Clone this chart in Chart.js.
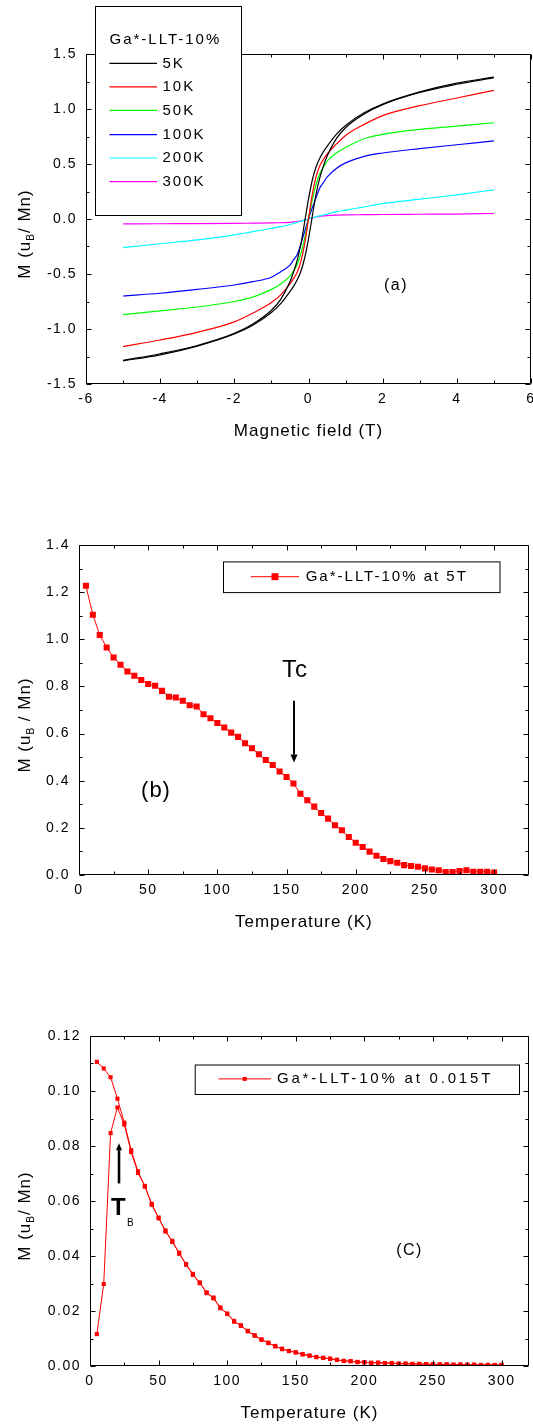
<!DOCTYPE html>
<html><head><meta charset="utf-8">
<script src="https://cdn.jsdelivr.net/npm/chart.js@4.4.1/dist/chart.umd.min.js"></script>
<style>
html,body{margin:0;padding:0;background:#fff;}
body{width:533px;height:1425px;position:relative;overflow:hidden;}
canvas{position:absolute;left:0;}
</style></head><body>
<canvas id="ca" width="533" height="480" style="top:0px"></canvas>
<canvas id="cb" width="533" height="490" style="top:480px"></canvas>
<canvas id="cc" width="533" height="455" style="top:970px"></canvas>
<script>
// ---------- Panel (a): M vs H loops ----------
const fieldGrid = [-5,-4,-3,-2,-1.5,-1,-0.75,-0.5,-0.4,-0.3,-0.2,-0.1,0,0.1,0.2,0.3,0.4,0.5,0.75,1,1.5,2,3,4,5];
const m5K_desc = [-1.285,-1.225,-1.15,-1.04,-0.955,-0.83,-0.73,-0.57,-0.48,-0.37,-0.22,-0.02,0.18,0.35,0.47,0.55,0.61,0.66,0.77,0.85,0.965,1.045,1.155,1.235,1.29];
const m5K_asc  = [-1.29,-1.235,-1.155,-1.045,-0.965,-0.85,-0.77,-0.66,-0.61,-0.55,-0.47,-0.35,-0.18,0.02,0.22,0.37,0.48,0.57,0.73,0.83,0.955,1.04,1.15,1.225,1.285];
const m10K  = [-1.16,-1.10,-1.03,-0.935,-0.855,-0.76,-0.69,-0.59,-0.54,-0.48,-0.38,-0.22,0,0.22,0.38,0.48,0.54,0.59,0.68,0.76,0.86,0.94,1.03,1.10,1.17];
const m50K  = [-0.87,-0.835,-0.80,-0.75,-0.71,-0.64,-0.59,-0.52,-0.47,-0.41,-0.31,-0.17,0,0.17,0.31,0.41,0.47,0.525,0.60,0.65,0.73,0.77,0.815,0.845,0.875];
const m100K = [-0.70,-0.675,-0.64,-0.60,-0.57,-0.53,-0.48,-0.42,-0.37,-0.32,-0.22,-0.11,0,0.10,0.19,0.28,0.33,0.38,0.46,0.51,0.57,0.60,0.64,0.675,0.71];
const m200K = [-0.26,-0.225,-0.19,-0.145,-0.115,-0.085,-0.07,-0.05,-0.04,-0.03,-0.02,-0.01,0,0.01,0.02,0.028,0.036,0.045,0.065,0.08,0.11,0.14,0.18,0.22,0.265];
const m300K = [-0.045,-0.043,-0.042,-0.04,-0.038,-0.036,-0.034,-0.03,-0.027,-0.023,-0.017,-0.009,0,0.01,0.018,0.024,0.028,0.031,0.035,0.037,0.039,0.041,0.043,0.045,0.05];
const seriesLabelsA = ['5K','10K','50K','100K','200K','300K'];
const seriesColorsA = ['#000000','#ff0000','#00ff00','#0000ff','#00ffff','#ff00ff'];
const xTicksA = [-6,-4,-2,0,2,4,6];
const xMinorA = [-5,-3,-1,1,3,5];
const yTicksA = [-1.5,-1,-0.5,0,0.5,1,1.5];
const yMinorA = [-1.25,-0.75,-0.25,0.25,0.75,1.25];

// ---------- Panel (b): M vs T at 5T ----------
const tempB = [5,10,15,20,25,30,35,40,45,50,55,60,65,70,75,80,85,90,95,100,105,110,115,120,125,130,135,140,145,150,155,160,165,170,175,180,185,190,195,200,205,210,215,220,225,230,235,240,245,250,255,260,265,270,275,280,285,290,295,300];
const magB = [1.227,1.104,1.018,0.965,0.923,0.892,0.863,0.845,0.827,0.81,0.803,0.781,0.756,0.753,0.739,0.72,0.715,0.682,0.665,0.645,0.626,0.604,0.586,0.559,0.538,0.512,0.488,0.467,0.439,0.416,0.388,0.345,0.317,0.29,0.263,0.239,0.211,0.19,0.161,0.137,0.119,0.099,0.082,0.068,0.059,0.052,0.042,0.038,0.035,0.028,0.023,0.02,0.013,0.013,0.017,0.02,0.014,0.014,0.014,0.01];
const xTicksB = [0,50,100,150,200,250,300];
const xMinorB = [25,75,125,175,225,275];
const yTicksB = [0,0.2,0.4,0.6,0.8,1.0,1.2,1.4];
const yMinorB = [0.1,0.3,0.5,0.7,0.9,1.1,1.3];

// ---------- Panel (c): M vs T at 0.015T (FC / ZFC) ----------
const tempC = [5,10,15,20,25,30,35,40,45,50,55,60,65,70,75,80,85,90,95,100,105,110,115,120,125,130,135,140,145,150,155,160,165,170,175,180,185,190,195,200,205,210,215,220,225,230,235,240,245,250,255,260,265,270,275,280,285,290,295,300];
const magC_FC = [0.1106,0.1082,0.105,0.0972,0.0885,0.0785,0.0708,0.0652,0.059,0.0537,0.0493,0.0451,0.0412,0.0368,0.0335,0.0301,0.0268,0.0246,0.0213,0.0189,0.0164,0.0146,0.0128,0.011,0.0097,0.0083,0.0073,0.0061,0.0055,0.0049,0.0043,0.0037,0.0033,0.0029,0.0027,0.0022,0.0019,0.0017,0.0015,0.0013,0.0012,0.0012,0.0011,0.001,0.0009,0.0008,0.0008,0.0007,0.0007,0.0006,0.0006,0.0006,0.0005,0.0005,0.0005,0.0004,0.0004,0.0004,0.0004,0.0004];
const magC_ZFC = [0.0116,0.0298,0.0847,0.094,0.0878,0.0778,0.0702,0.0655,0.0586,0.054,0.0489,0.0455,0.0408,0.0371,0.0331,0.0304,0.0265,0.0249,0.021,0.0191,0.0161,0.0148,0.0126,0.0112,0.0095,0.0085,0.0071,0.0063,0.0054,0.005,0.0042,0.0038,0.0032,0.003,0.0026,0.0023,0.0018,0.0018,0.0014,0.0014,0.0011,0.0012,0.001,0.0011,0.0008,0.0009,0.0007,0.0008,0.0006,0.0007,0.0005,0.0006,0.0004,0.0005,0.0004,0.0005,0.0003,0.0004,0.0003,0.0004];
const xTicksC = [0,50,100,150,200,250,300];
const xMinorC = [25,75,125,175,225,275];
const yTicksC = [0,0.02,0.04,0.06,0.08,0.10,0.12];
const yMinorC = [0.01,0.03,0.05,0.07,0.09,0.11];

const FONT = '"Liberation Sans", Arial, Helvetica, sans-serif';
function pts(xs, ys){ return xs.map((x,i)=>({x:x, y:ys[i]})); }

const framePlugin = {
  id:'frame',
  beforeDraw(chart){ chart.ctx.letterSpacing = '1.5px'; },
  afterDraw(chart, args, o){
    const ctx = chart.ctx, A = chart.chartArea, X = chart.scales.x, Y = chart.scales.y;
    ctx.save();
    ctx.strokeStyle = '#000'; ctx.fillStyle = '#000'; ctx.lineWidth = 1;
    const L = Math.round(A.left)+0.5, R = Math.round(A.right)-0.5, T = Math.round(A.top)+0.5, B = Math.round(A.bottom)-0.5;
    ctx.beginPath();
    ctx.rect(L, T, R-L, B-T);
    const tick = (vals, len, horiz) => vals.forEach(v => {
      if (horiz) { const p = Math.round(X.getPixelForValue(v))+0.5; ctx.moveTo(p,B); ctx.lineTo(p,B-len); ctx.moveTo(p,T); ctx.lineTo(p,T+len); }
      else { const p = Math.round(Y.getPixelForValue(v))+0.5; ctx.moveTo(L,p); ctx.lineTo(L+len,p); ctx.moveTo(R,p); ctx.lineTo(R-len,p); }
    });
    tick(o.xMajor,5,true); tick(o.xMinor,3,true); tick(o.yMajor,5,false); tick(o.yMinor,3,false);
    ctx.stroke();

    // axis titles
    const main = '17px ' + FONT, sub = '10px ' + FONT;
    ctx.letterSpacing = '1px';
    ctx.font = main; ctx.textAlign = 'center'; ctx.textBaseline = 'middle';
    ctx.fillText(o.xTitle, (A.left+A.right)/2, A.bottom + o.xTitleOffset);
    ctx.save();
    ctx.translate(o.yTitleX, (A.top+A.bottom)/2 + o.yTitleDy);
    ctx.rotate(-Math.PI/2);
    ctx.textAlign = 'left';
    ctx.font = main; const w1 = ctx.measureText(o.yTitle[0]).width;
    ctx.font = sub;  const ws = ctx.measureText(o.yTitle[1]).width;
    ctx.font = main; const w2 = ctx.measureText(o.yTitle[2]).width;
    let x0 = -(w1+ws+w2)/2;
    ctx.fillText(o.yTitle[0], x0, 0);
    ctx.font = sub; ctx.fillText(o.yTitle[1], x0+w1, 6);
    ctx.font = main; ctx.fillText(o.yTitle[2], x0+w1+ws, 0);
    ctx.restore();

    // free texts
    (o.texts||[]).forEach(t => {
      ctx.letterSpacing = (t.sp||1.5)+'px';
      ctx.font = (t.weight||'normal') + ' ' + t.size + 'px ' + FONT;
      ctx.textAlign = t.align||'center'; ctx.textBaseline = 'middle';
      ctx.fillText(t.t, t.x, t.y);
    });
    // arrows
    (o.arrows||[]).forEach(a => {
      const dir = a.y2 > a.y1 ? 1 : -1;
      ctx.beginPath(); ctx.lineWidth = a.w;
      ctx.moveTo(a.x, a.y1); ctx.lineTo(a.x, a.y2 - dir*a.hl);
      ctx.stroke();
      ctx.beginPath();
      ctx.moveTo(a.x, a.y2); ctx.lineTo(a.x - a.hw, a.y2 - dir*a.hl); ctx.lineTo(a.x + a.hw, a.y2 - dir*a.hl); ctx.closePath();
      ctx.fill();
    });
    // legend
    const lg = o.legend;
    if (lg) {
      ctx.lineWidth = 1;
      ctx.fillStyle = '#fff';
      ctx.fillRect(lg.l, lg.t, lg.r-lg.l, lg.b-lg.t);
      ctx.strokeStyle = '#000';
      ctx.strokeRect(lg.l+0.5, lg.t+0.5, lg.r-lg.l, lg.b-lg.t);
      ctx.letterSpacing = lg.sp + 'px';
      ctx.font = lg.size + 'px ' + FONT;
      ctx.textAlign = 'left'; ctx.textBaseline = 'middle'; ctx.fillStyle = '#000';
      if (lg.title) ctx.fillText(lg.title, lg.titleX, lg.titleY);
      lg.items.forEach(it => {
        ctx.strokeStyle = it.color; ctx.lineWidth = it.lw || 1.2;
        ctx.beginPath(); ctx.moveTo(it.x1, it.y); ctx.lineTo(it.x2, it.y); ctx.stroke();
        if (it.marker) { ctx.fillStyle = it.color; ctx.fillRect(it.mx - it.marker/2, it.y - it.marker/2, it.marker, it.marker); }
        ctx.fillStyle = '#000';
        ctx.fillText(it.text, it.tx, it.y);
      });
    }
    ctx.restore();
  }
};

function axis(min, max, ticks, fmt, fitProp, fitVal, pad){
  const ax = {
    type:'linear', min:min, max:max,
    afterBuildTicks: s => { s.ticks = ticks.map(v => ({value:v})); },
    ticks:{ autoSkip:false, maxRotation:0, minRotation:0, padding:pad, color:'#000',
            font:{family:FONT, size:14}, callback: v => fmt(v) },
    grid:{ display:false, drawTicks:false },
    border:{ display:false },
    afterFit: s => { s[fitProp] = fitVal; s.paddingLeft = 0; s.paddingRight = 0; s.paddingTop = 0; s.paddingBottom = 0; }
  };
  return ax;
}

const baseOpts = { responsive:false, animation:false, devicePixelRatio:1 };

// Panel (a)
const seriesA = [m5K_desc, m10K, m50K, m100K, m200K, m300K];
const dsA = [];
dsA.push({data: pts(fieldGrid, m5K_asc), borderColor: seriesColorsA[0]});
seriesA.forEach((s,i) => dsA.push({data: pts(fieldGrid, s), borderColor: seriesColorsA[i]}));
dsA.forEach(d => { d.showLine = true; d.borderWidth = 1.2; d.pointRadius = 0; d.cubicInterpolationMode = 'monotone'; d.fill = false; });

const legendRowsA = [63.4, 86.9, 110.4, 134.6, 158, 181.6];
new Chart(document.getElementById('ca'), {
  type:'scatter',
  data:{ datasets: dsA },
  options: Object.assign({}, baseOpts, {
    layout:{ padding:{ left:0, top:54, right:2, bottom:56 } },
    plugins:{ legend:{display:false}, tooltip:{enabled:false},
      frame:{ xMajor:xTicksA, xMinor:xMinorA, yMajor:yTicksA, yMinor:yMinorA,
        xTitle:'Magnetic field (T)', xTitleOffset:47, yTitle:['M (u','B','/ Mn)'], yTitleX:25, yTitleDy:15,
        texts:[{t:'(a)', x:396, y:285.6, size:16}],
        legend:{ l:95, t:6, r:241, b:215, size:15, sp:2, title:'Ga*-LLT-10%', titleX:109.5, titleY:40,
          items: seriesLabelsA.map((lab,i) => ({text:lab, color:seriesColorsA[i], x1:109.5, x2:157, y:legendRowsA[i], tx:162.5})) }
      } },
    scales:{
      x: axis(-6, 6, xTicksA, v => String(v), 'height', 40, 7),
      y: axis(-1.5, 1.5, yTicksA, v => v.toFixed(1), 'width', 86, 9)
    }
  }),
  plugins:[framePlugin]
});

// Panel (b)
new Chart(document.getElementById('cb'), {
  type:'scatter',
  data:{ datasets:[{ data: pts(tempB, magB), showLine:true, borderColor:'#ff0000', backgroundColor:'#ff0000', borderWidth:1,
    pointStyle:'rect', pointRadius:4.3, pointBorderWidth:0, tension:0 }] },
  options: Object.assign({}, baseOpts, {
    layout:{ padding:{ left:0, top:65, right:4, bottom:55 } },
    plugins:{ legend:{display:false}, tooltip:{enabled:false},
      frame:{ xMajor:xTicksB, xMinor:xMinorB, yMajor:yTicksB, yMinor:yMinorB,
        xTitle:'Temperature (K)', xTitleOffset:47, yTitle:['M (u','B',' / Mn)'], yTitleX:25, yTitleDy:15,
        texts:[{t:'(b)', x:156, y:311, size:22, sp:1}, {t:'Tc', x:295, y:190.8, size:24, sp:1}],
        arrows:[{x:294, y1:220.8, y2:282.6, w:2, hw:3.5, hl:8}],
        legend:{ l:223, t:81.4, r:499.5, b:112.1, size:15, sp:2,
          items:[{text:'Ga*-LLT-10% at 5T', color:'#ff0000', x1:250.7, x2:299, y:96.7, tx:305.7, marker:7, mx:275, lw:1}] }
      } },
    scales:{
      x: axis(0, 325, xTicksB, v => String(v), 'height', 40, 7),
      y: axis(0, 1.4, yTicksB, v => v.toFixed(1), 'width', 79, 9)
    }
  }),
  plugins:[framePlugin]
});

// Panel (c)
const dsC = [
  { data: pts(tempC, magC_FC) },
  { data: pts(tempC, magC_ZFC) }
];
dsC.forEach(d => { d.showLine = true; d.borderColor = '#ff0000'; d.backgroundColor = '#ff0000'; d.borderWidth = 1;
  d.pointStyle = 'rect'; d.pointRadius = 2.9; d.pointBorderWidth = 0; d.tension = 0; });
new Chart(document.getElementById('cc'), {
  type:'scatter',
  data:{ datasets: dsC },
  options: Object.assign({}, baseOpts, {
    layout:{ padding:{ left:0, top:66, right:2, bottom:19 } },
    plugins:{ legend:{display:false}, tooltip:{enabled:false},
      frame:{ xMajor:xTicksC, xMinor:xMinorC, yMajor:yTicksC, yMinor:yMinorC,
        xTitle:'Temperature (K)', xTitleOffset:47, yTitle:['M (u','B','/ Mn)'], yTitleX:25, yTitleDy:15,
        texts:[{t:'(C)', x:409.5, y:280.4, size:16}, {t:'T', x:119, y:238.5, size:24, weight:'bold', sp:0}, {t:'B', x:131, y:253.6, size:10, sp:0}],
        arrows:[{x:119, y1:213.4, y2:173.2, w:2.6, hw:3, hl:7}],
        legend:{ l:194.7, t:94.5, r:519, b:124, size:15, sp:2.8,
          items:[{text:'Ga*-LLT-10% at 0.015T', color:'#ff0000', x1:218.5, x2:271, y:108.9, tx:277, marker:4, mx:244.7, lw:1}] }
      } },
    scales:{
      x: axis(0, 320, xTicksC, v => String(v), 'height', 40, 7),
      y: axis(0, 0.12, yTicksC, v => v.toFixed(2), 'width', 90, 9)
    }
  }),
  plugins:[framePlugin]
});
</script>
</body></html>
